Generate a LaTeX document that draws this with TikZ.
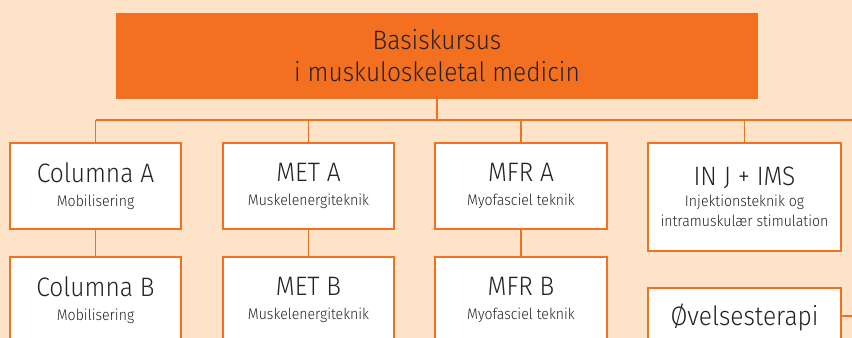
\documentclass[tikz,border=0pt]{standalone}
\usepackage{fontspec}
\setmainfont{Fira Sans}[UprightFont=* Light, FakeStretch=0.92]
\usepackage{xcolor}
\usepackage{tikz}
\usetikzlibrary{positioning, calc}
\definecolor{peach}{RGB}{253, 228, 200}
\definecolor{kursorange}{RGB}{243, 112, 33}
\definecolor{kurstext}{RGB}{38, 34, 35}
\newcommand{\kursus}[3][3.2pt]{\fontsize{20}{24}\selectfont #2\\[#1]\fontsize{11.5}{14.8}\selectfont #3}

\begin{document}
\begin{tikzpicture}[
    x=0.75pt, y=-0.75pt,
    box/.style={draw=kursorange, fill=white, line width=1pt, minimum width=128.25pt, minimum height=64.5pt, align=center, text=kurstext, inner sep=0pt, font=\fontsize{11.5}{14.8}\selectfont},
    widebox/.style={box, minimum width=144.75pt},
    link/.style={draw=kursorange, line width=1pt}
]
    \fill[peach] (0,0) rectangle (852,338);
    \useasboundingbox (0,0) rectangle (852,338);
    \clip (0,0) rectangle (852,338);

    \node[fill=kursorange, minimum width=481.5pt, minimum height=64.5pt, align=center, text=kurstext, font=\fontsize{20}{24}\selectfont] (basis) at (437,56) {Basiskursus\\i muskuloskeletal medicin};

    % første række
    \node[box] (colA) at (95.5,186) {\kursus{Columna A}{Mobilisering}};
    \node[box] (metA) at (308.5,186) {\kursus{MET A}{Muskelenergiteknik}};
    \node[box] (mfrA) at (521,186) {\kursus{MFR A}{Myofasciel teknik}};
    \node[widebox, minimum height=81pt] (inj) at (744.5,197) {\kursus[1.2pt]{IN J + IMS}{Injektionsteknik og}\\intramuskulær stimulation};

    % anden række
    \node[box] (colB) at (95.5,300) {\kursus{Columna B}{Mobilisering}};
    \node[box] (metB) at (308.5,300) {\kursus{MET B}{Muskelenergiteknik}};
    \node[box] (mfrB) at (521,300) {\kursus{MFR B}{Myofasciel teknik}};
    \node[widebox, minimum height=43.5pt, font=\fontsize{20}{24}\selectfont] (ovel) at (744.5,317) {Øvelsesterapi};

    \coordinate (busL) at (95.5,120);
    \coordinate (busR) at (870,120);
    \coordinate (ovelR) at (870,316);

    \draw[link] (busL) -- (busR);
    \draw[link] (basis.south) -- (basis.south |- busL);
    \foreach \n in {colA, metA, mfrA, inj}
        \draw[link] (\n.north |- busL) -- (\n.north);
    \draw[link] (colA) -- (colB);
    \draw[link] (metA) -- (metB);
    \draw[link] (mfrA) -- (mfrB);
    \draw[link] (ovel.east |- ovelR) -- (ovelR);

    % kasserne igen oven på linjerne
    \foreach \n in {colA, metA, mfrA, colB, metB, mfrB}
        \draw[link] (\n.north west) rectangle (\n.south east);
\end{tikzpicture}
\end{document}
